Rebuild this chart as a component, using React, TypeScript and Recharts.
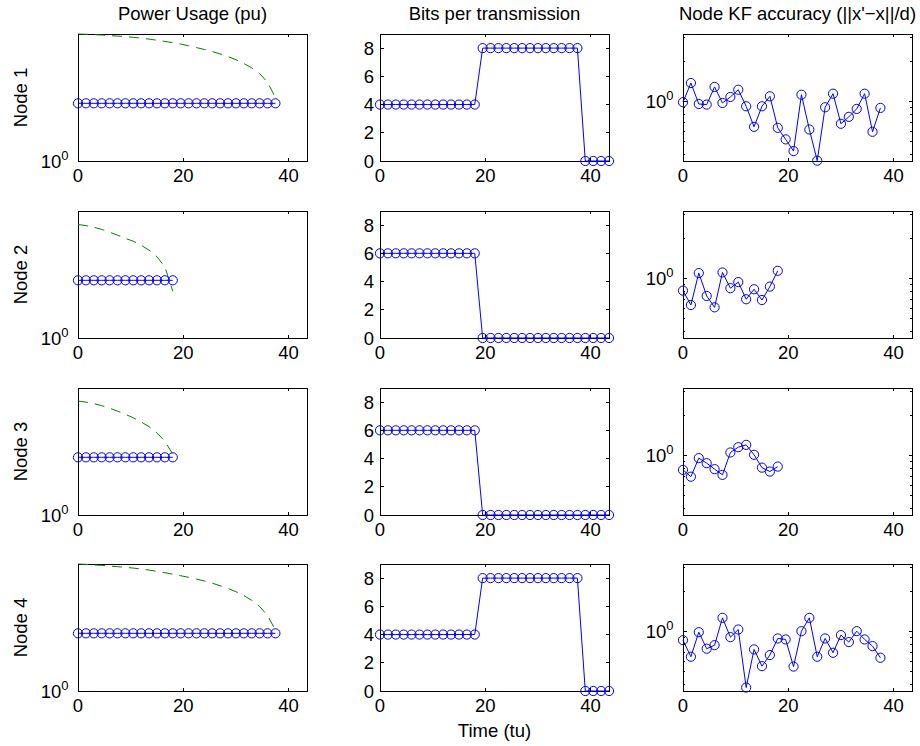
import React from 'react';
import { LineChart, Line, XAxis, YAxis, ReferenceArea } from 'recharts';

// ---------------- data ----------------
const TIME = [0, 1.5, 3, 4.5, 6, 7.5, 9, 10.5, 12, 13.5, 15, 16.5, 18, 19.5, 21, 22.5, 24, 25.5, 27, 28.5, 30, 31.5, 33, 34.5, 36, 37.5, 39, 40.5, 42, 43.5];

const NODE_NAMES = ['Node 1', 'Node 2', 'Node 3', 'Node 4'];
const COLUMN_TITLES = ['Power Usage (pu)', 'Bits per transmission', "Node KF accuracy (||x'\u2212x||/d)"];
const X_LABEL = 'Time (tu)';

const X_TICKS = [0, 20, 40];
const BITS_TICKS = [0, 2, 4, 6, 8];
const POWER_TICKS = [1];
const KF_TICKS = [0.4, 0.5, 0.6, 0.7, 0.8, 0.9, 1, 2, 3];

const X_DOMAIN: [number, number] = [0, 43.5];
const POWER_DOMAIN: [number, number] = [1, 2];
const BITS_DOMAIN: [number, number] = [0, 9];
const KF_DOMAIN: [number, number] = [0.36, 3.2];

// power usage (blue circles)
const POWER_NODE1 = [1.37, 1.37, 1.37, 1.37, 1.37, 1.37, 1.37, 1.37, 1.37, 1.37, 1.37, 1.37, 1.37, 1.37, 1.37, 1.37, 1.37, 1.37, 1.37, 1.37, 1.37, 1.37, 1.37, 1.37, 1.37, 1.37];
const POWER_NODE2 = [1.37, 1.37, 1.37, 1.37, 1.37, 1.37, 1.37, 1.37, 1.37, 1.37, 1.37, 1.37, 1.37];
const POWER_NODE3 = [1.37, 1.37, 1.37, 1.37, 1.37, 1.37, 1.37, 1.37, 1.37, 1.37, 1.37, 1.37, 1.37];
const POWER_NODE4 = [1.37, 1.37, 1.37, 1.37, 1.37, 1.37, 1.37, 1.37, 1.37, 1.37, 1.37, 1.37, 1.37, 1.37, 1.37, 1.37, 1.37, 1.37, 1.37, 1.37, 1.37, 1.37, 1.37, 1.37, 1.37, 1.37];

// power budget (green dashed)
const BUDGET_NODE1 = [2.0, 1.997, 1.993, 1.989, 1.983, 1.977, 1.971, 1.964, 1.955, 1.945, 1.933, 1.921, 1.908, 1.894, 1.875, 1.857, 1.838, 1.818, 1.794, 1.768, 1.739, 1.703, 1.662, 1.611, 1.537, 1.414];
const BUDGET_NODE2 = [1.858, 1.847, 1.83, 1.809, 1.781, 1.753, 1.722, 1.696, 1.659, 1.615, 1.558, 1.474, 1.292];
const BUDGET_NODE3 = [1.863, 1.852, 1.837, 1.816, 1.791, 1.763, 1.733, 1.699, 1.662, 1.619, 1.567, 1.495, 1.395];
const BUDGET_NODE4 = [2.0, 1.996, 1.99, 1.985, 1.978, 1.971, 1.964, 1.956, 1.945, 1.935, 1.921, 1.907, 1.892, 1.876, 1.86, 1.842, 1.823, 1.801, 1.776, 1.75, 1.719, 1.684, 1.64, 1.586, 1.51, 1.395];

// bits per transmission
const BITS_NODE1 = [4, 4, 4, 4, 4, 4, 4, 4, 4, 4, 4, 4, 4, 8, 8, 8, 8, 8, 8, 8, 8, 8, 8, 8, 8, 8, 0, 0, 0, 0];
const BITS_NODE2 = [6, 6, 6, 6, 6, 6, 6, 6, 6, 6, 6, 6, 6, 0, 0, 0, 0, 0, 0, 0, 0, 0, 0, 0, 0, 0, 0, 0, 0, 0];
const BITS_NODE3 = [6, 6, 6, 6, 6, 6, 6, 6, 6, 6, 6, 6, 6, 0, 0, 0, 0, 0, 0, 0, 0, 0, 0, 0, 0, 0, 0, 0, 0, 0];
const BITS_NODE4 = [4, 4, 4, 4, 4, 4, 4, 4, 4, 4, 4, 4, 4, 8, 8, 8, 8, 8, 8, 8, 8, 8, 8, 8, 8, 8, 0, 0, 0, 0];

// KF accuracy
const KF_NODE1 = [0.99, 1.377, 0.96, 0.95, 1.287, 0.977, 1.083, 1.227, 0.923, 0.648, 0.923, 1.095, 0.637, 0.522, 0.427, 1.126, 0.619, 0.362, 0.907, 1.146, 0.683, 0.77, 0.882, 1.146, 0.595, 0.897];
const KF_NODE2 = [0.813, 0.635, 1.1, 0.742, 0.61, 1.112, 0.848, 0.942, 0.701, 0.833, 0.692, 0.872, 1.144];
const KF_NODE3 = [0.782, 0.696, 0.958, 0.878, 0.792, 0.718, 1.055, 1.156, 1.203, 1.014, 0.813, 0.76, 0.828];
const KF_NODE4 = [0.863, 0.649, 0.99, 0.745, 0.792, 1.267, 0.909, 1.037, 0.382, 0.736, 0.552, 0.668, 0.889, 0.874, 0.548, 1.008, 1.267, 0.649, 0.889, 0.695, 0.942, 0.835, 1.008, 0.874, 0.779, 0.638];

const POWER = [POWER_NODE1, POWER_NODE2, POWER_NODE3, POWER_NODE4];
const BUDGET = [BUDGET_NODE1, BUDGET_NODE2, BUDGET_NODE3, BUDGET_NODE4];
const BITS = [BITS_NODE1, BITS_NODE2, BITS_NODE3, BITS_NODE4];
const KF = [KF_NODE1, KF_NODE2, KF_NODE3, KF_NODE4];

// ---------------- layout ----------------
const FONT = '"Liberation Sans", Arial, Helvetica, sans-serif';
const FS = 18.5;
const BLUE = '#0000ff';
const GREEN = '#008000';

const COL_LEFT = [78, 380, 683];
const ROW_TOP = [34, 211, 388, 564];
const PW = 229;
const PH = 127;
const YW = 60;
const MT = 10;
const MR = 8;
const XH = 32;

const renderXTick = (p: any) => {
  const x = p.x;
  const bottom = MT + PH;
  return (
    <g>
      <line x1={x} x2={x} y1={bottom} y2={bottom - 3} stroke="#000" strokeWidth={1} shapeRendering="crispEdges" />
      <line x1={x} x2={x} y1={MT} y2={MT + 3} stroke="#000" strokeWidth={1} shapeRendering="crispEdges" />
      <text x={x} y={bottom + 21} textAnchor="middle" fontSize={FS} fontFamily={FONT} fill="#000">
        {p.payload.value}
      </text>
    </g>
  );
};

const makeYTick = (mode: 'linear' | 'log') => (p: any) => {
  const y = p.y;
  const v = p.payload.value;
  const major = mode === 'linear' || v === 1;
  const len = major ? 3.5 : 2;
  const L = YW;
  const R = YW + PW;
  let label: any = null;
  if (mode === 'linear') {
    label = (
      <text x={L - 6} y={y + 6.5} textAnchor="end" fontSize={FS} fontFamily={FONT} fill="#000">
        {v}
      </text>
    );
  } else if (v === 1) {
    label = (
      <text x={L - 9.5} y={y + 6.5} textAnchor="end" fontSize={FS} fontFamily={FONT} fill="#000">
        <tspan>10</tspan>
        <tspan dy={-8} fontSize={13}>0</tspan>
      </text>
    );
  }
  return (
    <g>
      <line x1={L} x2={L + len} y1={y} y2={y} stroke="#000" strokeWidth={1} shapeRendering="crispEdges" />
      <line x1={R} x2={R - len} y1={y} y2={y} stroke="#000" strokeWidth={1} shapeRendering="crispEdges" />
      {label}
    </g>
  );
};

const linearTick = makeYTick('linear');
const logTick = makeYTick('log');

type PanelProps = {
  col: number;
  row: number;
  data: any[];
  yDomain: [number, number];
  yTicks: number[];
  log: boolean;
  children: any;
};

function Panel({ col, row, data, yDomain, yTicks, log, children }: PanelProps) {
  const left = COL_LEFT[col] - YW;
  const top = ROW_TOP[row] - MT;
  return (
    <div style={{ position: 'absolute', left, top }}>
      <LineChart
        width={YW + PW + MR}
        height={MT + PH + XH}
        data={data}
        margin={{ top: MT, right: MR, left: 0, bottom: 0 }}
      >
        <XAxis
          type="number"
          dataKey="t"
          domain={X_DOMAIN}
          ticks={X_TICKS}
          interval={0}
          height={XH}
          tickSize={0}
          tickLine={false}
          axisLine={false}
          tick={renderXTick}
        />
        <YAxis
          type="number"
          scale={log ? 'log' : 'linear'}
          domain={yDomain}
          ticks={yTicks}
          interval={0}
          width={YW}
          tickSize={0}
          tickLine={false}
          axisLine={false}
          tick={log ? logTick : linearTick}
        />
        <ReferenceArea
          x1={X_DOMAIN[0]}
          x2={X_DOMAIN[1]}
          y1={yDomain[0]}
          y2={yDomain[1]}
          fill="none"
          fillOpacity={0}
          stroke="#000"
          strokeWidth={1}
          shapeRendering="crispEdges"
          ifOverflow="visible"
        />
        {children}
      </LineChart>
    </div>
  );
}

const dotStyle = { r: 4.6, fill: 'none', stroke: BLUE, strokeWidth: 1 };

export default function App() {
  return (
    <div style={{ position: 'absolute', left: 0, top: 0, width: 920, height: 746, background: '#fff', overflow: 'hidden' }}>
      <svg width={920} height={746} style={{ position: 'absolute', left: 0, top: 0 }}>
        {COLUMN_TITLES.map((t, i) => (
          <text key={t} x={COL_LEFT[i] + PW / 2} y={20} textAnchor="middle" fontSize={FS} fontFamily={FONT} fill="#000">
            {t}
          </text>
        ))}
        {NODE_NAMES.map((n, i) => (
          <text
            key={n}
            transform={`translate(26.5, ${ROW_TOP[i] + PH / 2}) rotate(-90)`}
            textAnchor="middle"
            fontSize={FS}
            fontFamily={FONT}
            fill="#000"
          >
            {n}
          </text>
        ))}
        <text x={COL_LEFT[1] + PW / 2} y={737} textAnchor="middle" fontSize={FS} fontFamily={FONT} fill="#000">
          {X_LABEL}
        </text>
      </svg>
      {NODE_NAMES.map((n, r) => {
        const powerData = POWER[r].map((p, i) => ({ t: TIME[i], p, b: BUDGET[r][i] }));
        const bitsData = BITS[r].map((v, i) => ({ t: TIME[i], v }));
        const kfData = KF[r].map((v, i) => ({ t: TIME[i], v }));
        return (
          <React.Fragment key={n}>
            <Panel col={0} row={r} data={powerData} yDomain={POWER_DOMAIN} yTicks={POWER_TICKS} log={true}>
              <Line
                type="linear"
                dataKey="b"
                stroke={GREEN}
                strokeWidth={1}
                strokeDasharray="10 7"
                dot={false}
                isAnimationActive={false}
              />
              <Line
                type="linear"
                dataKey="p"
                stroke={BLUE}
                strokeWidth={1}
                dot={{ ...dotStyle, clipDot: false }}
                isAnimationActive={false}
              />
            </Panel>
            <Panel col={1} row={r} data={bitsData} yDomain={BITS_DOMAIN} yTicks={BITS_TICKS} log={false}>
              <Line
                type="linear"
                dataKey="v"
                stroke={BLUE}
                strokeWidth={1}
                dot={{ ...dotStyle, clipDot: false }}
                isAnimationActive={false}
              />
            </Panel>
            <Panel col={2} row={r} data={kfData} yDomain={KF_DOMAIN} yTicks={KF_TICKS} log={true}>
              <Line
                type="linear"
                dataKey="v"
                stroke={BLUE}
                strokeWidth={1}
                dot={{ ...dotStyle, clipDot: false }}
                isAnimationActive={false}
              />
            </Panel>
          </React.Fragment>
        );
      })}
    </div>
  );
}
